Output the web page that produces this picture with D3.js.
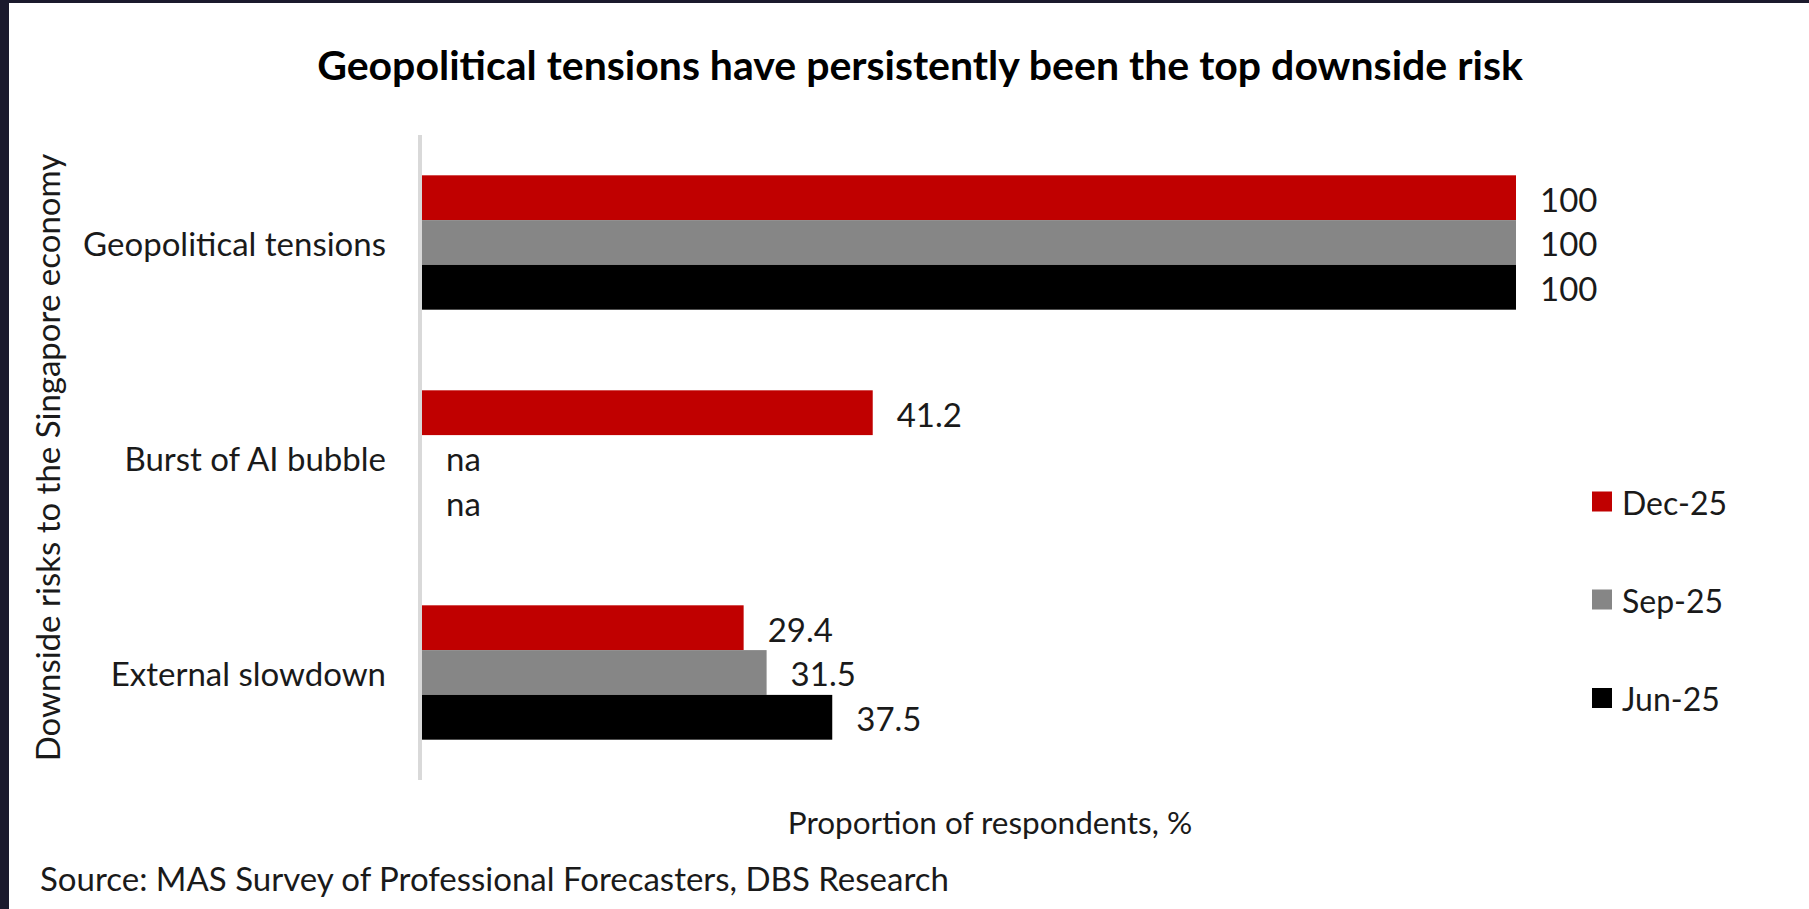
<!DOCTYPE html>
<html>
<head>
<meta charset="utf-8">
<script src="https://cdn.jsdelivr.net/npm/d3@7"></script>
<style>
  html, body { margin: 0; padding: 0; background: #ffffff; }
  svg { display: block; }
  text { font-family: Lato, "Open Sans", "Noto Sans", sans-serif; }
</style>
</head>
<body>
<svg id="chart" width="1809" height="909"></svg>
<script>
// Categories, top to bottom
const categories = ["Geopolitical tensions", "Burst of AI bubble", "External slowdown"];
// Survey rounds, drawn in this order inside each category
const seriesNames = ["Dec-25", "Sep-25", "Jun-25"];
const seriesColors = ["#c00000", "#868686", "#000000"];
// Proportion of respondents (%) per round; null = not asked ("na")
const dec25 = [100, 41.2, 29.4];
const sep25 = [100, null, 31.5];
const jun25 = [100, null, 37.5];
const seriesValues = [dec25, sep25, jun25];

const titleText = "Geopolitical tensions have persistently been the top downside risk";
const yTitle = "Downside risks to the Singapore economy";
const xTitle = "Proportion of respondents, %";
const sourceText = "Source: MAS Survey of Professional Forecasters, DBS Research";

const W = 1809, H = 909;
const svg = d3.select("#chart");

// page frame
svg.append("rect").attr("width", W).attr("height", H).attr("fill", "#ffffff");
svg.append("rect").attr("x", 0).attr("y", 0).attr("width", W).attr("height", 3).attr("fill", "#1b1a2d");
svg.append("rect").attr("x", 0).attr("y", 0).attr("width", 9).attr("height", H).attr("fill", "#1b1a2d");

const plot = { left: 422, right: 1516, top: 135, bottom: 780 };

const x = d3.scaleLinear().domain([0, 100]).range([plot.left, plot.right]);
const y = d3.scaleBand().domain(categories).range([plot.top, plot.bottom]);

// clustered bars: gap between clusters = 180% of one bar
const gapRatio = 1.8;
const barH = y.bandwidth() / (seriesNames.length + gapRatio);
const groupOffset = barH * gapRatio / 2;
const ySub = d3.scaleBand().domain(seriesNames)
  .range([groupOffset, groupOffset + barH * seriesNames.length]);

const rows = [];
categories.forEach((c, i) => {
  seriesNames.forEach((s, j) => {
    rows.push({ cat: c, series: s, color: seriesColors[j], value: seriesValues[j][i] });
  });
});

const textColor = "#1a1a1a";
const labelSize = 33;
const midDy = "0.42em";

// bars
svg.append("g").selectAll("rect")
  .data(rows.filter(d => d.value != null))
  .join("rect")
  .attr("x", x(0))
  .attr("y", d => y(d.cat) + ySub(d.series))
  .attr("width", d => x(d.value) - x(0))
  .attr("height", ySub.bandwidth())
  .attr("fill", d => d.color);

// value labels
svg.append("g").selectAll("text")
  .data(rows)
  .join("text")
  .attr("x", d => x(d.value == null ? 0 : d.value) + 24)
  .attr("y", d => y(d.cat) + ySub(d.series) + ySub.bandwidth() / 2)
  .attr("dy", midDy)
  .attr("font-size", labelSize)
  .attr("fill", textColor)
  .text(d => d.value == null ? "na" : d3.format(".1~f")(d.value));

// vertical category axis
const yAxis = d3.axisLeft(y).tickSize(0).tickPadding(34);
const gy = svg.append("g").attr("transform", `translate(${plot.left - 2},0)`).call(yAxis);
gy.select(".domain").attr("stroke", "#d9d9d9").attr("stroke-width", 4)
  .attr("d", `M0,${plot.top}V${plot.bottom}`);
gy.selectAll(".tick text")
  .attr("font-size", labelSize)
  .attr("font-family", "Lato, 'Open Sans', sans-serif")
  .attr("dy", midDy)
  .attr("fill", textColor);

// title
svg.append("text")
  .attr("x", 920).attr("y", 80)
  .attr("text-anchor", "middle")
  .attr("font-size", 41).attr("font-weight", "bold")
  .attr("fill", "#000000")
  .text(titleText);

// axis titles
svg.append("text")
  .attr("transform", `translate(48,${(plot.top + plot.bottom) / 2}) rotate(-90)`)
  .attr("text-anchor", "middle").attr("dy", "0.35em")
  .attr("font-size", labelSize).attr("fill", textColor)
  .text(yTitle);

svg.append("text")
  .attr("x", 990).attr("y", 821).attr("dy", midDy)
  .attr("text-anchor", "middle")
  .attr("font-size", 31.5).attr("fill", textColor)
  .text(xTitle);

// source note
svg.append("text")
  .attr("x", 40).attr("y", 877).attr("dy", midDy)
  .attr("font-size", labelSize).attr("fill", textColor)
  .text(sourceText);

// legend
const legendRows = [501.5, 599.5, 698];
const legend = svg.append("g").selectAll("g")
  .data(seriesNames)
  .join("g")
  .attr("transform", (d, i) => `translate(1592,${legendRows[i]})`);
legend.append("rect")
  .attr("x", 0).attr("y", -10).attr("width", 20).attr("height", 20)
  .attr("fill", (d, i) => seriesColors[i]);
legend.append("text")
  .attr("x", 30).attr("dy", midDy)
  .attr("font-size", 32).attr("fill", textColor)
  .text(d => d);
</script>
</body>
</html>
